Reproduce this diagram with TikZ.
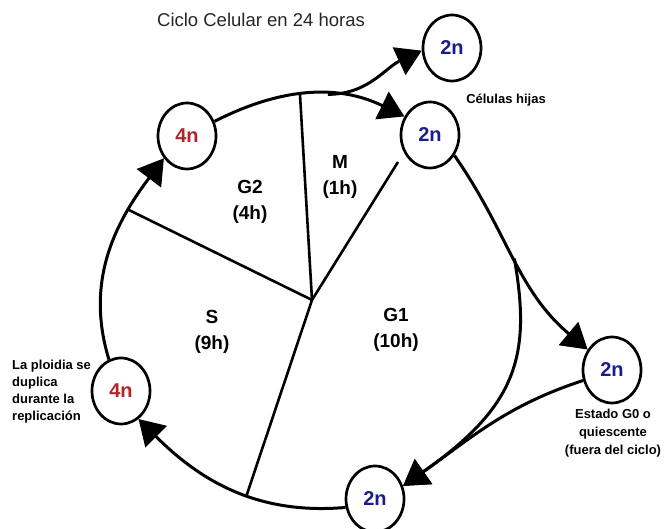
\documentclass[tikz,border=0pt]{standalone}
\usepackage{fontspec}
\setmainfont{Liberation Sans}
\usetikzlibrary{arrows.meta,shapes.geometric}
\definecolor{navy}{HTML}{1C1C8C}
\definecolor{dred}{HTML}{B0242A}
\begin{document}
\begin{tikzpicture}[x=1pt,y=1pt,
  cell/.style={ellipse,draw,line width=2.7pt,minimum width=58pt,minimum height=66pt,inner sep=0pt,font=\fontsize{20}{22}\selectfont\bfseries},
  haploid/.style={cell,text=navy},
  tetraploid/.style={cell,text=dred},
  arr/.style={line width=3pt,-{Triangle[length=25pt,width=30pt]}},
  rad/.style={line width=2.6pt},
  phase/.style={font=\fontsize{19}{26}\selectfont\bfseries,align=center,inner sep=0pt},
  note/.style={font=\fontsize{13}{17}\selectfont\bfseries,inner sep=0pt}
]
\fill[white] (0,0) rectangle (666,529);
\useasboundingbox (0,0) rectangle (666,529);

% title
\node[font=\fontsize{18.5}{20}\selectfont,text=black!85] (title) at (261,509) {Ciclo Celular en 24 horas};

% cells
\node[haploid] (d1) at (452,481) {2n};
\node[haploid] (d2) at (430,394) {2n};
\node[tetraploid] (p1) at (187,393) {4n};
\node[tetraploid] (p2) at (121,138) {4n};
\node[haploid] (g0) at (612,159) {2n};
\node[haploid] (b) at (375,30) {2n};
\coordinate (c) at (312,229);
\coordinate (r3) at (398,367);

% notes
\node[note] (hijas) at (506,429) {Células hijas};
\node[note,anchor=west,align=left] (ploidia) at (12,137) {La ploidia se\\duplica\\durante la\\replicación};
\node[note,align=center,font=\fontsize{13}{18}\selectfont\bfseries] (quies) at (613,96) {Estado G0 o\\quiescente\\(fuera del ciclo)};

% cycle arcs
\draw[arr] (p1.28) to[out=27,in=154] coordinate[pos=0.45] (r1) coordinate[pos=0.6] (j2) (d2.144);
\draw[arr] (j2) to[out=0,in=205] (d1.185);
\draw[arr] (d2.-40) to[out=-55,in=140] coordinate[pos=0.5] (j) (g0.140);
\draw[arr] (j) to[out=-80,in=35,out looseness=1.0,in looseness=1.4] (b.25);
\draw[arr] (g0.200) to[out=198,in=35] (b.25);
\draw[arr] (b.196) to[out=185,in=-45] coordinate[pos=0.43] (r4) (p2.-58);
\draw[arr] (p2.111) to[out=107,in=233] coordinate[pos=0.73] (r2) (p1.224);

% phase boundaries
\draw[rad] (c) -- (r1);
\draw[rad] (c) -- (r2);
\draw[rad] (c) -- (r3);
\draw[rad] (c) -- (r4);

% phase labels
\node[phase] (m) at (340,352) {M\\(1h)};
\node[phase] (g2) at (250,327) {G2\\(4h)};
\node[phase] (s) at (212,197) {S\\(9h)};
\node[phase] (g1) at (396,199) {G1\\(10h)};
\end{tikzpicture}
\end{document}
